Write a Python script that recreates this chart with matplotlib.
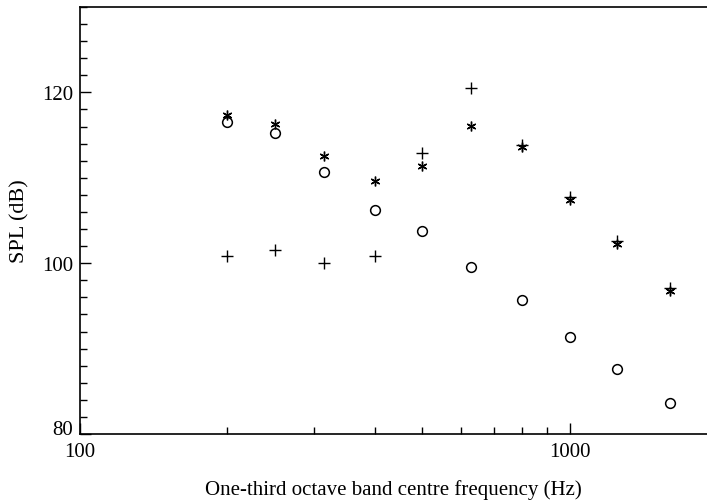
import numpy as np
import matplotlib.pyplot as plt
from matplotlib.ticker import FixedLocator, MultipleLocator, NullFormatter

plt.rcParams['font.family'] = ['Liberation Serif', 'DejaVu Serif']

# one-third octave band centres (Hz)
freq = [200, 250, 315, 400, 500, 630, 800, 1000, 1250, 1600]

# SPL (dB), one list per symbol
spl_plus = [100.9, 101.5, 100.0, 100.9, 112.9, 120.5, 113.8, 107.7, 102.6, 97.1]
spl_star = [117.3, 116.3, 112.6, 109.6, 111.4, 116.1, 113.6, 107.4, 102.3, 96.8]
spl_circ = [116.5, 115.2, 110.7, 106.2, 103.8, 99.6, 95.7, 91.3, 87.6, 83.6]

fig = plt.figure(figsize=(7.07, 5.02), dpi=100)
ax = fig.add_axes([80 / 707, 1 - 435 / 502, 1 - 80 / 707, (435 - 8) / 502])

ax.plot(freq, spl_plus, linestyle='none', marker='+', color='black',
        markersize=8, markeredgewidth=1.0)
ax.plot(freq, spl_star, linestyle='none', marker=(6, 2, 0), color='black',
        markersize=7, markeredgewidth=1.0)
ax.plot(freq, spl_circ, linestyle='none', marker='o', color='black',
        fillstyle='none', markersize=7, markeredgewidth=1.1)

ax.set_xscale('log')
ax.set_xlim(100, 1908)
ax.set_ylim(80, 130)

ax.xaxis.set_major_locator(FixedLocator([100, 1000]))
ax.xaxis.set_minor_locator(FixedLocator([200, 300, 400, 500, 600, 700, 800, 900]))
ax.xaxis.set_major_formatter(plt.FuncFormatter(lambda v, p: '%d' % v))
ax.xaxis.set_minor_formatter(NullFormatter())
ax.yaxis.set_major_locator(FixedLocator([80, 100, 120]))
ax.yaxis.set_minor_locator(MultipleLocator(2))

ax.tick_params(which='both', direction='in', top=False, right=False,
               labelsize=15, width=1.0)
ax.tick_params(axis='x', pad=6)
ax.tick_params(axis='y', pad=5)
ax.tick_params(which='major', length=8)
ax.tick_params(which='minor', length=5)

# the bottom y label sits on the axis line, as in the original
fig.canvas.draw()
ax.get_yticklabels()[0].set_va('baseline')

ax.spines['right'].set_visible(False)
for s in ['left', 'bottom', 'top']:
    ax.spines[s].set_linewidth(1.2)

ax.set_xlabel('One-third octave band centre frequency (Hz)', fontsize=15, labelpad=13)
ax.set_ylabel('SPL (dB)', fontsize=16, labelpad=9)

fig.savefig('out.png', dpi=100)
